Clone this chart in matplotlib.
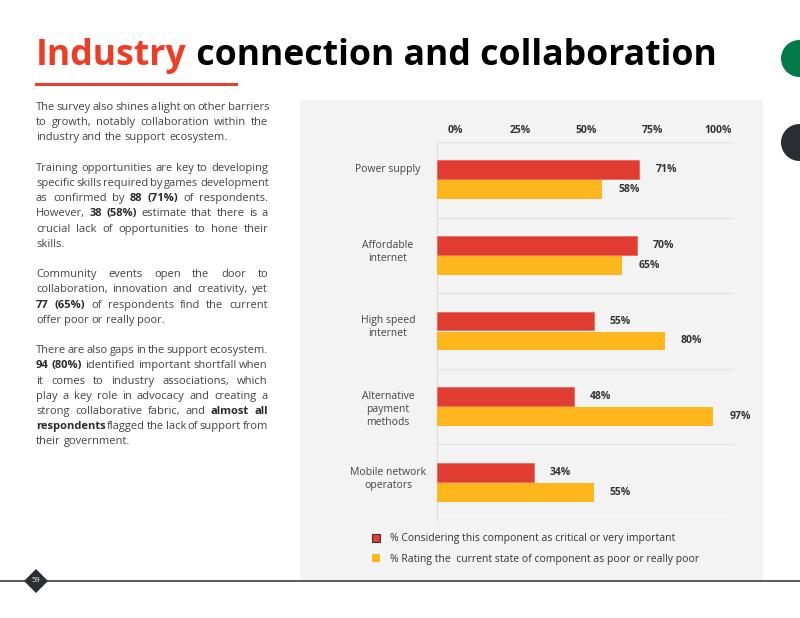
import matplotlib
matplotlib.use("Agg")
import matplotlib.pyplot as plt
from matplotlib.patches import Rectangle, Ellipse, Polygon, Patch
from matplotlib.lines import Line2D
import numpy as np

# ---------------- data ----------------
categories = ["Power supply", "Affordable\ninternet", "High speed\ninternet",
              "Alternative\npayment\nmethods", "Mobile network\noperators"]
critical = [71, 70, 55, 48, 34]
poor = [58, 65, 80, 97, 55]
series_names = ["% Considering this component as critical or very important",
                "% Rating the  current state of component as poor or really poor"]
tick_values = [0, 25, 50, 75, 100]
tick_labels = ["0%", "25%", "50%", "75%", "100%"]

title_red = "Industry"
title_black = " connection and collaboration"

paragraphs = [
    ["The survey also shines a light on other barriers",
     "to growth, notably collaboration within the",
     "industry and the support ecosystem."],
    ["Training opportunities are key to developing",
     "specific skills required by games development",
     "as confirmed by **88 (71%)** of respondents.",
     "However, **38 (58%)** estimate that there is a",
     "crucial lack of opportunities to hone their",
     "skills."],
    ["Community events open the door to",
     "collaboration, innovation and creativity, yet",
     "**77 (65%)** of respondents find the current",
     "offer poor or really poor."],
    ["There are also gaps in the support ecosystem.",
     "**94 (80%)** identified important shortfall when",
     "it comes to industry associations, which",
     "play a key role in advocacy and creating a",
     "strong collaborative fabric, and **almost all**",
     "**respondents** flagged the lack of support from",
     "their government."],
]
page_number = "59"

# ---------------- styles ----------------
RED = "#E03C31"
YELLOW = "#FDB71C"
TITLE_RED = "#F03C24"
TEXT = "#444444"
FONT = "Open Sans"

W, H = 800, 618
fig = plt.figure(figsize=(8, 6.18), dpi=100)
fig.patch.set_facecolor("white")
renderer = fig.canvas.get_renderer()


def fx(x):
    return x / W


def fy(y):
    return 1 - y / H


# gray panel
fig.patches.append(Rectangle((fx(300), fy(580)), 463 / W, 480 / H,
                             transform=fig.transFigure, facecolor="#F3F3F3",
                             edgecolor="none", zorder=-5))

# right decorative circles
fig.patches.append(Ellipse((fx(799.5), fy(58.5)), 37 / W, 37 / H,
                           transform=fig.transFigure, facecolor="#047A4B",
                           edgecolor="none", zorder=-4))
fig.patches.append(Ellipse((fx(799.5), fy(142.5)), 37 / W, 37 / H,
                           transform=fig.transFigure, facecolor="#2B2D35",
                           edgecolor="none", zorder=-4))

# title
TFS = 25.7
t1 = fig.text(fx(36), fy(65), title_red, color=TITLE_RED, fontsize=TFS,
              fontweight="bold", family=FONT, va="baseline", ha="left")
bb = t1.get_window_extent(renderer)
fig.text(bb.x1 / W, fy(65), title_black, color="black", fontsize=TFS,
         fontweight="bold", family=FONT, va="baseline", ha="left")
fig.add_artist(Line2D([fx(36), fx(236)], [fy(84), fy(84)], color="#E8402E",
                      lw=2.2, transform=fig.transFigure))

# justified body text
x_left, x_right = 36, 268
line_step = 15.2
y = 107.5
fs_body = 8.05
m1 = fig.text(0, 0, "a a", fontsize=fs_body, family=FONT)
m2 = fig.text(0, 0, "aa", fontsize=fs_body, family=FONT)
space_w = m1.get_window_extent(renderer).width - m2.get_window_extent(renderer).width
m1.remove()
m2.remove()
for para in paragraphs:
    for li, line in enumerate(para):
        is_last = li == len(para) - 1
        tokens = []
        bold = False
        for word in line.split(" "):
            w = word
            if w.startswith("**"):
                bold = True
                w = w[2:]
            end_bold = w.endswith("**")
            if end_bold:
                w = w[:-2]
            tokens.append((w, bold))
            if end_bold:
                bold = False
        texts = []
        widths = []
        for w, b in tokens:
            t = fig.text(0, fy(y), w, fontsize=fs_body, family=FONT,
                         fontweight="bold" if b else "normal",
                         color="#2a2a2a" if b else TEXT, va="center", ha="left")
            texts.append(t)
            widths.append(t.get_window_extent(renderer).width)
        total = sum(widths)
        if is_last or len(tokens) == 1:
            gap = space_w
        else:
            gap = ((x_right - x_left) - total) / (len(tokens) - 1)
            gap = max(gap, 0.55 * space_w)
        cx = x_left
        for t, wd in zip(texts, widths):
            t.set_x(fx(cx))
            cx += wd + gap
        y += line_step
    y += line_step

# ---------------- chart ----------------
ax = fig.add_axes([fx(437), fy(520), 298 / W, 378 / H])
ax.set_facecolor("none")
ax.set_zorder(2)
ypos = np.arange(len(categories))
bh = 0.25
off = 0.132
b1 = ax.barh(ypos - off, critical, height=bh, color=RED, edgecolor="#EE6A5E",
             linewidth=0.6, zorder=3)
b2 = ax.barh(ypos + off, poor, height=bh, color=YELLOW, edgecolor="none",
             zorder=3)
ax.set_xlim(0, 298 / 2.85)
ax.set_ylim(len(categories) - 0.5, -0.5)
for b in np.arange(-0.5, len(categories), 1.0):
    ax.axhline(b, color="#E4E4E4", lw=1, zorder=1)
for s in ["top", "right", "bottom"]:
    ax.spines[s].set_visible(False)
ax.spines["left"].set_color("#E0E0E0")
ax.spines["left"].set_linewidth(1)
ax.set_xticks([])
ax.set_yticks([])

for yy, v in zip(ypos - off, critical):
    ax.annotate(f"{v}%", (v, yy), xytext=(11.5, 0), textcoords="offset points",
                ha="left", va="center", fontsize=7.5, fontweight="bold",
                family=FONT, color="#333333")
for yy, v in zip(ypos + off, poor):
    ax.annotate(f"{v}%", (v, yy), xytext=(11.5, 0), textcoords="offset points",
                ha="left", va="center", fontsize=7.5, fontweight="bold",
                family=FONT, color="#333333")

for yy, c in zip(ypos, categories):
    ax.annotate(c, (-49 / 298, yy), xycoords=ax.get_yaxis_transform(),
                xytext=(0, 11.2), textcoords="offset points", ha="center",
                va="top", fontsize=7.5, family=FONT, color="#444444",
                linespacing=1.25)

# top percentage scale
ax2 = ax.twiny()
ax2.set_xlim(-18 / 2.63, 280 / 2.63)
ax2.set_xticks(tick_values)
ax2.set_xticklabels(tick_labels, fontsize=7.5, fontweight="bold", family=FONT,
                    color="#333333")
ax2.tick_params(axis="x", length=0, pad=4)
for s in ax2.spines.values():
    s.set_visible(False)

# legend
handles = [Patch(facecolor=RED, edgecolor="#333333", linewidth=0.8),
           Patch(facecolor=YELLOW, edgecolor="none")]
fig.legend(handles, series_names, loc="upper left",
           bbox_to_anchor=(fx(363), fy(524)), frameon=False,
           prop={"family": FONT, "size": 7.5}, labelcolor="#333333",
           handlelength=0.75, handleheight=0.75, handletextpad=0.9,
           labelspacing=0.9)

# bottom rule with page diamond
fig.add_artist(Line2D([0, 1], [fy(581), fy(581)], color="#5A5A5A", lw=1.4,
                      transform=fig.transFigure))
fig.patches.append(Polygon([(fx(24), fy(581)), (fx(36), fy(569)),
                            (fx(48), fy(581)), (fx(36), fy(593))],
                           closed=True, transform=fig.transFigure,
                           facecolor="#2B2D35", edgecolor="none", zorder=5))
fig.text(fx(36), fy(581), page_number, color="white", fontsize=5.5,
         family=FONT, ha="center", va="center", zorder=6)

fig.savefig("out.png", dpi=100)
